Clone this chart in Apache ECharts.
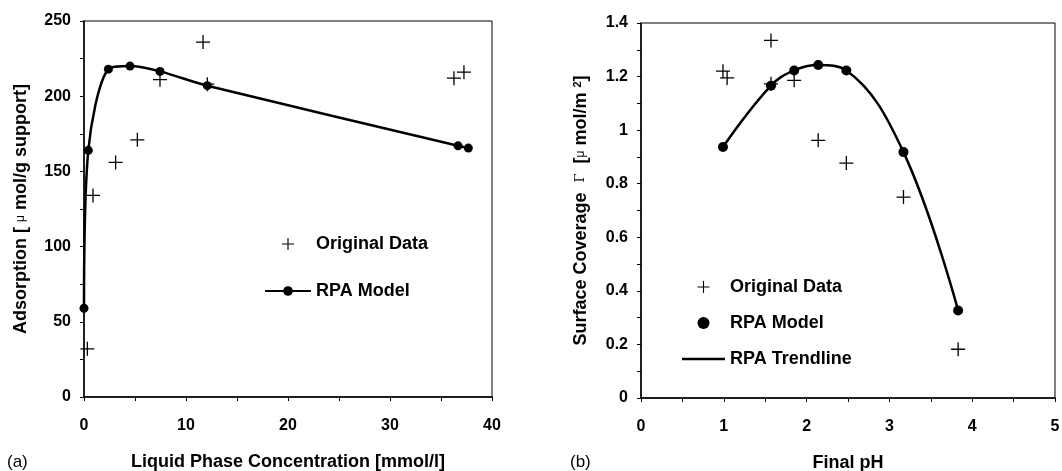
<!DOCTYPE html>
<html>
<head>
<meta charset="utf-8">
<script src="https://cdn.jsdelivr.net/npm/echarts@6/dist/echarts.min.js"></script>
<style>
html,body{margin:0;padding:0;background:#fff;}
#c{width:1062px;height:471px;}
</style>
</head>
<body>
<div id="c"></div>
<script>
// ---- Data: panel (a) ----
var aOrigX  = [0.33, 0.88, 3.1, 5.23, 7.45, 11.67, 12.09, 36.27, 37.25];
var aOrigY  = [32, 134, 156, 171, 211, 236, 208, 212, 216];
var aModelX = [0, 0.42, 2.39, 4.51, 7.45, 12.09, 36.67, 37.68];
var aModelY = [59, 164, 218, 220, 216.5, 207, 167, 165.5];
// ---- Data: panel (b) ----
var bOrigX  = [0.99, 1.04, 1.57, 1.57, 1.85, 2.14, 2.48, 3.17, 3.83];
var bOrigY  = [1.22, 1.195, 1.335, 1.173, 1.186, 0.962, 0.877, 0.75, 0.182];
var bModelX = [0.99, 1.57, 1.85, 2.14, 2.48, 3.17, 3.83];
var bModelY = [0.937, 1.166, 1.223, 1.243, 1.223, 0.918, 0.327];

function pairs(xs, ys){ return xs.map(function(x,i){ return [x, ys[i]]; }); }

var FONT = '"Liberation Sans", Arial, sans-serif';
var PLUS = 'path://M6.35,0H7.65V6.35H14V7.65H7.65V14H6.35V7.65H0V6.35H6.35Z';
var LINEICON = 'path://M0,0H43V2.6H0Z';

function xAxis(gi, max, interval, name){
  return {
    type:'value', gridIndex:gi, min:0, max:max, interval:interval,
    name:name, nameLocation:'middle', nameGap:56,
    nameTextStyle:{fontFamily:FONT, fontSize:18, fontWeight:'bold', color:'#000'},
    axisLine:{show:true, onZero:false, lineStyle:{color:'#000', width:1.5}},
    axisTick:{show:true, length:4, lineStyle:{color:'#000'}},
    minorTick:{show:true, splitNumber:2, length:4, lineStyle:{color:'#000'}},
    splitLine:{show:false},
    axisLabel:{fontFamily:FONT, fontSize:16, fontWeight:'bold', color:'#000', margin:21}
  };
}
function yAxis(gi, max, interval, name, gap, rich){
  return {
    type:'value', gridIndex:gi, min:0, max:max, interval:interval,
    name:name, nameLocation:'middle', nameGap:gap, nameRotate:90,
    nameTextStyle:{fontFamily:FONT, fontSize:18, fontWeight:'bold', color:'#000', rich:rich},
    axisLine:{show:true, onZero:false, lineStyle:{color:'#000', width:1.5}},
    axisTick:{show:true, length:4, lineStyle:{color:'#000'}},
    minorTick:{show:true, splitNumber:2, length:4, lineStyle:{color:'#000'}},
    splitLine:{show:false},
    axisLabel:{fontFamily:FONT, fontSize:16, fontWeight:'bold', color:'#000', margin:13}
  };
}

var richCommon = {
  mu:{fontFamily:FONT, fontSize:12, fontWeight:'normal', color:'#000'},
  g:{fontFamily:'"DejaVu Serif", serif', fontSize:13, fontWeight:'normal', color:'#000'},
  sup:{fontFamily:FONT, fontSize:11, fontWeight:'bold', color:'#000', verticalAlign:'top'}
};

var chart = echarts.init(document.getElementById('c'), null, {renderer:'canvas'});
chart.setOption({
  animation:false,
  backgroundColor:'#fff',
  grid:[
    {left:84, top:21, width:408, height:376, show:true, borderColor:'#000', borderWidth:1, containLabel:false, outerBoundsMode:'none'},
    {left:641, top:23, width:414, height:375, show:true, borderColor:'#000', borderWidth:1, containLabel:false, outerBoundsMode:'none'}
  ],
  xAxis:[
    xAxis(0, 40, 10, 'Liquid Phase Concentration [mmol/l]'),
    xAxis(1, 5, 1, 'Final pH')
  ],
  yAxis:[
    yAxis(0, 250, 50, 'Adsorption [ {mu|μ} mol/g support]', 54, richCommon),
    yAxis(1, 1.4, 0.2, 'Surface Coverage  {g|Γ}  [{mu|μ} mol/m {sup|2}]', 51, richCommon)
  ],
  legend:[
    {
      orient:'vertical', left:259, top:230, itemWidth:46, itemHeight:12, itemGap:29,
      data:['Original Data', 'RPA Model'],
      textStyle:{fontFamily:FONT, fontSize:18, fontWeight:'bold', color:'#000'},
      formatter:function(n){ return n.trim(); }
    },
    {
      orient:'vertical', left:677, top:273, itemWidth:43, itemHeight:12, itemGap:18,
      data:['Original Data ', 'RPA Model ', {name:'RPA Trendline', icon:LINEICON}],
      textStyle:{fontFamily:FONT, fontSize:18, fontWeight:'bold', color:'#000'},
      formatter:function(n){ return n.trim(); }
    }
  ],
  graphic:[
    {type:'text', left:7, top:454, style:{text:'(a)', font:'17px ' + FONT, fill:'#000'}},
    {type:'text', left:570, top:454, style:{text:'(b)', font:'17px ' + FONT, fill:'#000'}}
  ],
  series:[
    {
      name:'Original Data', type:'scatter', xAxisIndex:0, yAxisIndex:0,
      symbol:PLUS, symbolSize:14, symbolKeepAspect:true,
      itemStyle:{color:'#000', opacity:1}, data:pairs(aOrigX, aOrigY), z:3
    },
    {
      name:'RPA Model', type:'line', xAxisIndex:0, yAxisIndex:0,
      smooth:0.3, symbol:'circle', symbolSize:9, showSymbol:true,
      lineStyle:{color:'#000', width:2.5}, itemStyle:{color:'#000', opacity:1},
      data:pairs(aModelX, aModelY), z:2
    },
    {
      name:'Original Data ', type:'scatter', xAxisIndex:1, yAxisIndex:1,
      symbol:PLUS, symbolSize:14, symbolKeepAspect:true,
      itemStyle:{color:'#000', opacity:1}, data:pairs(bOrigX, bOrigY), z:3
    },
    {
      name:'RPA Model ', type:'scatter', xAxisIndex:1, yAxisIndex:1,
      symbol:'circle', symbolSize:10,
      itemStyle:{color:'#000', opacity:1}, data:pairs(bModelX, bModelY), z:3
    },
    {
      name:'RPA Trendline', type:'line', xAxisIndex:1, yAxisIndex:1,
      smooth:0.4, symbol:'none', showSymbol:false,
      lineStyle:{color:'#000', width:2.5}, itemStyle:{color:'#000'},
      data:pairs(bModelX, bModelY), z:2
    }
  ]
});
</script>
</body>
</html>
